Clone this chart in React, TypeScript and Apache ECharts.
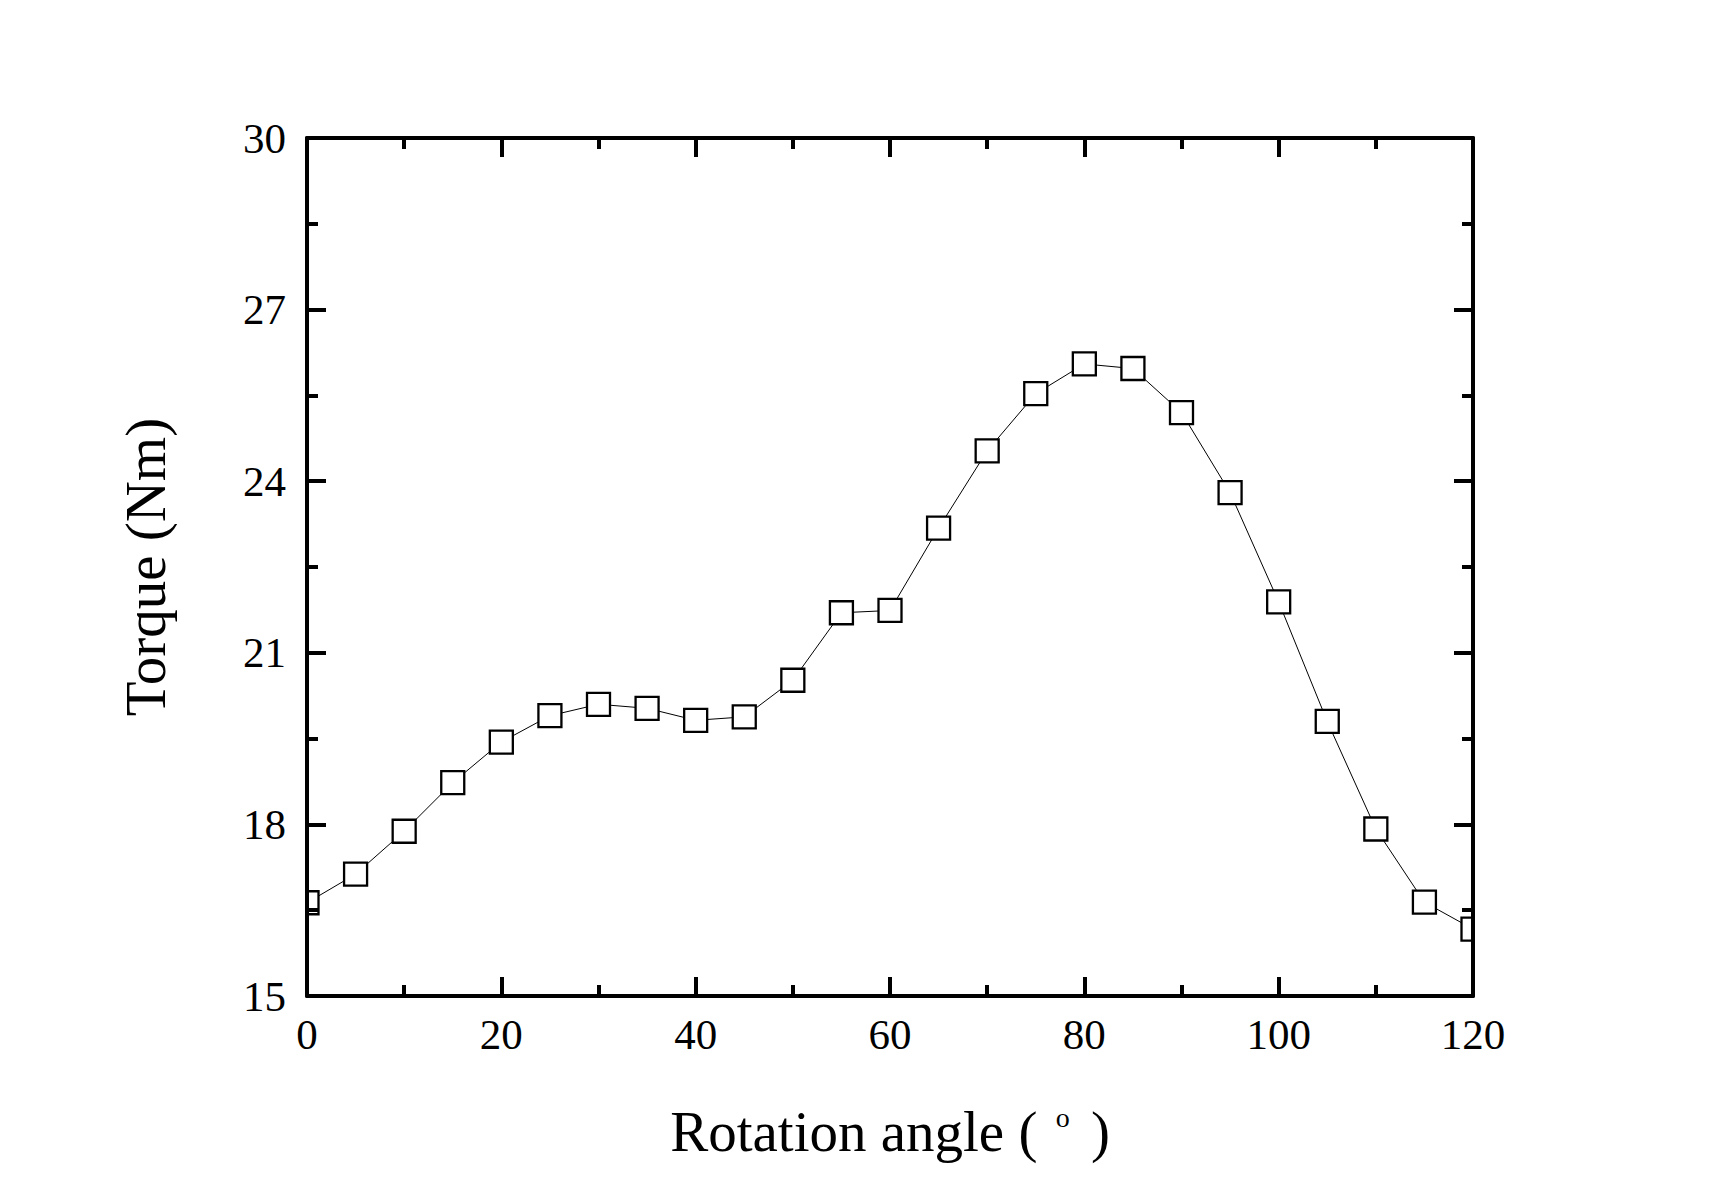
import React, { useEffect, useRef } from "react";
import * as echarts from "echarts";

const angles = [0, 5, 10, 15, 20, 25, 30, 35, 40, 45, 50, 55, 60, 65, 70, 75, 80, 85, 90, 95, 100, 105, 110, 115, 120];
const torque = [16.63, 17.13, 17.88, 18.73, 19.44, 19.9, 20.1, 20.03, 19.82, 19.88, 20.52, 21.7, 21.74, 23.18, 24.53, 25.53, 26.05, 25.97, 25.2, 23.8, 21.89, 19.8, 17.92, 16.64, 16.17];
const xRange = { min: 0, max: 120, interval: 20 };
const yRange = { min: 15, max: 30, interval: 3 };
const xTitle = "Rotation angle ( {s|o} )";
const yTitle = "Torque (Nm)";

const FONT = '"Liberation Serif", "Times New Roman", serif';

export default function App() {
  const ref = useRef<HTMLDivElement>(null);
  useEffect(() => {
    if (!ref.current) return;
    const chart = echarts.init(ref.current, undefined, { renderer: "svg" });
    const W = 1710, H = 1194;
    const gL = 307, gR = 1473, gT = 138, gB = 996;
    const axisLine = { show: true, onZero: false, lineStyle: { color: "#000", width: 4 } };
    const tick = { show: true, inside: true, length: 19, lineStyle: { color: "#000", width: 4 } };
    const minor = { show: true, splitNumber: 2, length: 11, lineStyle: { color: "#000", width: 4 } };
    const data = angles.map((a, i) => [a, torque[i]]);
    chart.setOption({
      animation: false,
      backgroundColor: "#fff",
      grid: { left: gL, right: W - gR, top: gT, bottom: H - gB, containLabel: false },
      xAxis: [
        {
          type: "value", position: "bottom", ...xRange, z: 10,
          axisLine, axisTick: tick, minorTick: minor, splitLine: { show: false },
          axisLabel: { show: true, margin: 17, color: "#000", fontFamily: FONT, fontSize: 43 },
          name: xTitle, nameLocation: "middle", nameGap: 107,
          nameTextStyle: {
            color: "#000", fontFamily: FONT, fontSize: 57,
            rich: { s: { color: "#000", fontFamily: FONT, fontSize: 28, lineHeight: 12, verticalAlign: "top", padding: [0, 7, 0, 4] } },
          },
        },
        {
          type: "value", position: "top", ...xRange, z: 10,
          axisLine, axisTick: tick, minorTick: minor, splitLine: { show: false },
          axisLabel: { show: false },
        },
      ],
      yAxis: [
        {
          type: "value", position: "left", ...yRange, z: 10,
          axisLine, axisTick: tick, minorTick: minor, splitLine: { show: false },
          axisLabel: { show: true, margin: 21, color: "#000", fontFamily: FONT, fontSize: 43 },
          name: yTitle, nameLocation: "middle", nameGap: 133,
          nameTextStyle: { color: "#000", fontFamily: FONT, fontSize: 57 },
        },
        {
          type: "value", position: "right", ...yRange, z: 10,
          axisLine, axisTick: tick, minorTick: minor, splitLine: { show: false },
          axisLabel: { show: false },
        },
      ],
      graphic: [
        { type: "rect", z: 5, shape: { x: 288, y: gT, width: gL - 2 - 288, height: gB - gT - 2 }, style: { fill: "#fff" } },
        { type: "rect", z: 5, shape: { x: gR + 2, y: gT, width: 30, height: gB - gT - 2 }, style: { fill: "#fff" } },
      ],
      series: [
        {
          type: "line",
          data,
          z: 2,
          clip: false,
          symbol: "rect",
          symbolSize: 23,
          showAllSymbol: true,
          lineStyle: { color: "#000", width: 1 },
          itemStyle: { color: "#fff", borderColor: "#000", borderWidth: 2.3 },
          emphasis: { disabled: true },
        },
      ],
    });
    return () => chart.dispose();
  }, []);
  return <div ref={ref} style={{ position: "fixed", left: 0, top: 0, width: 1710, height: 1194, background: "#fff" }} />;
}
